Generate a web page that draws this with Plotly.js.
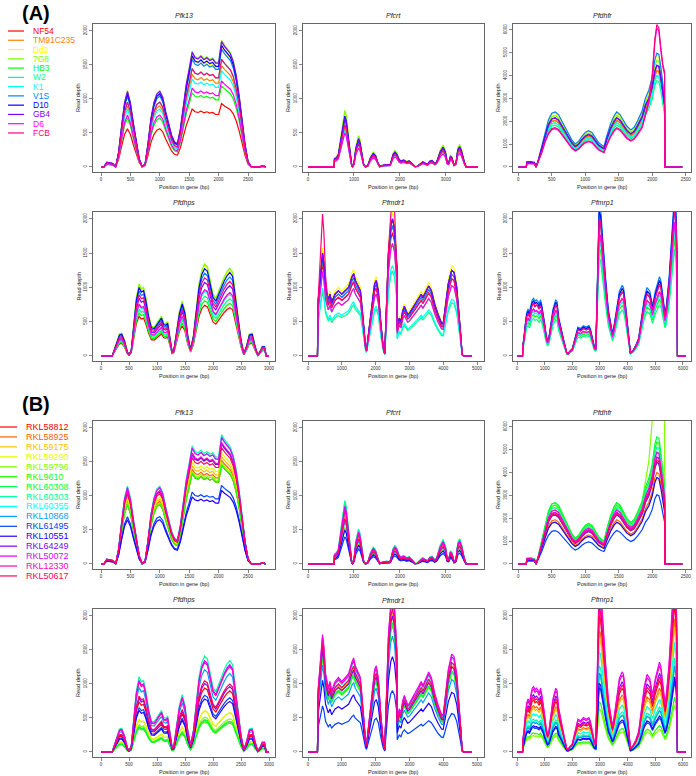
<!DOCTYPE html>
<html>
<head>
<meta charset="utf-8">
<script src="https://cdn.plot.ly/plotly-3.0.1.min.js"></script>
<style>
  body { margin: 0; background: #fff; }
  #chart { width: 696px; height: 776px; }
</style>
</head>
<body>
<div id="chart"></div>
<script>
// genes, strains and tick labels
var genes = ['Pfk13', 'Pfcrt', 'Pfdhfr', 'Pfdhps', 'Pfmdr1', 'Pfmrp1'];
var strainsA = ['NF54', 'TM91C235', 'Dd2', '7G8', 'HB3', 'W2', 'K1', 'V1S', 'D10', 'GB4', 'D6', 'FCB'];
var strainsB = ['RKL58812', 'RKL58925', 'RKL59175', 'RKL59290', 'RKL59796', 'RKL9610', 'RKL60308', 'RKL60303',
                'RKL60355', 'RKL10868', 'RKL61495', 'RKL10551', 'RKL64249', 'RKL50072', 'RKL12330', 'RKL50617'];
var colorsA = ['#FF0000', '#FF8000', '#FFFF00', '#80FF00', '#00FF00', '#00FF80',
               '#00FFFF', '#0080FF', '#0000FF', '#8000FF', '#FF00FF', '#FF0080'];
var colorsB = ['#FF0000', '#FF6000', '#FFBF00', '#DFFF00', '#80FF00', '#20FF00', '#00FF40', '#00FF9F',
               '#00FFFF', '#009FFF', '#0040FF', '#2000FF', '#8000FF', '#DF00FF', '#FF00BF', '#FF0060'];

var xTicks = [
    [0, 500, 1000, 1500, 2000, 2500],
    [0, 1000, 2000, 3000],
    [0, 500, 1000, 1500, 2000, 2500],
    [0, 500, 1000, 1500, 2000, 2500, 3000],
    [0, 1000, 2000, 3000, 4000, 5000],
    [0, 1000, 2000, 3000, 4000, 5000, 6000]
];
var yTicksDepth = [0, 500, 1000, 1500, 2000];
var yTicksDhfr = [0, 1000, 2000, 3000, 4000, 5000, 6000];

// coverage profiles (position in bp, read depth)
var pfk13Pos = [
    0, 50, 100, 150, 200, 250, 300, 350, 400, 450,
    500, 550, 600, 650, 700, 750, 800, 850, 900, 950,
    1000, 1050, 1100, 1150, 1200, 1250, 1300, 1350, 1400, 1450,
    1500, 1550, 1600, 1650, 1700, 1750, 1800, 1850, 1900, 1950,
    2000, 2050, 2100, 2150, 2200, 2250, 2300, 2350, 2400, 2450,
    2500, 2550, 2600, 2650, 2700, 2750, 2800];
var pfk13Depth = [
    0, 0, 70, 65, 50, 0, 220, 600, 950, 1120,
    950, 650, 350, 120, 5, 40, 350, 720, 950, 1080,
    1120, 1030, 820, 620, 470, 370, 345, 560, 900, 1220,
    1450, 1700, 1620, 1600, 1640, 1590, 1620, 1580, 1600, 1540,
    1540, 1860, 1790, 1740, 1680, 1560, 1350, 1050, 680, 330,
    80, 5, 0, 0, 0, 20, 0];

var pfcrtPos = [
    0, 570, 575, 620, 660, 700, 740, 780, 800, 830,
    870, 910, 950, 970, 1000, 1040, 1080, 1100, 1130, 1170,
    1210, 1250, 1300, 1360, 1420, 1470, 1520, 1560, 1600, 1700,
    1780, 1800, 1850, 1890, 1930, 1980, 2020, 2080, 2150, 2200,
    2260, 2330, 2380, 2450, 2500, 2550, 2600, 2650, 2700, 2760,
    2800, 2880, 2940, 2990, 3030, 3060, 3100, 3130, 3180, 3220,
    3260, 3300, 3340, 3400, 3440, 3700];
var pfcrtDepth = [
    0, 0, 130, 150, 200, 380, 620, 800, 830, 760,
    520, 220, 30, 0, 60, 300, 440, 460, 400, 200,
    40, 0, 20, 150, 220, 180, 60, 5, 20, 35,
    30, 60, 200, 240, 210, 120, 90, 110, 80, 95,
    60, 5, 10, 60, 80, 60, 40, 90, 100, 50,
    80, 250, 320, 240, 70, 60, 170, 150, 30, 60,
    280, 330, 260, 80, 0, 0];

var pfdhfrPos = [
    0, 120, 125, 180, 240, 265, 300, 350, 400, 450,
    500, 550, 600, 650, 700, 750, 800, 850, 900, 950,
    1000, 1050, 1100, 1150, 1200, 1250, 1280, 1320, 1380, 1430,
    1470, 1520, 1570, 1620, 1680, 1730, 1780, 1850, 1900, 1950,
    2000, 2040, 2070, 2100, 2130, 2160, 2185, 2190, 2450];
var pfdhfrDepth = [
    0, 0, 200, 210, 180, 0, 300, 800, 1400, 1850,
    2100, 2150, 2050, 1800, 1550, 1250, 1050, 900, 1000, 1200,
    1350, 1420, 1350, 1150, 950, 850, 800, 1200, 1700, 2000,
    2150, 2050, 1800, 1600, 1450, 1550, 1800, 2200, 2700, 3000,
    3500, 4200, 4450, 4400, 3900, 3200, 2700, 0, 0];
// strains whose 3' peak runs off the top of the Pfdhfr plot
var pfdhfrDepthAlt = [
    0, 0, 200, 210, 180, 0, 300, 800, 1400, 1850,
    2100, 2150, 2050, 1800, 1550, 1250, 1050, 900, 1000, 1200,
    1350, 1420, 1350, 1150, 950, 850, 800, 1200, 1700, 2000,
    2150, 2050, 1800, 1600, 1450, 1550, 1800, 2200, 2900, 3600,
    5000, 7000, 7800, 7600, 6500, 5600, 5200, 0, 0];

var pfdhpsPos = [
    0, 200, 220, 280, 330, 370, 420, 470, 500, 540,
    580, 630, 680, 720, 760, 800, 850, 900, 950, 1000,
    1050, 1080, 1120, 1160, 1190, 1230, 1270, 1300, 1350, 1400,
    1450, 1500, 1550, 1600, 1650, 1700, 1750, 1800, 1850, 1900,
    1950, 2000, 2050, 2100, 2150, 2200, 2250, 2300, 2350, 2400,
    2450, 2500, 2550, 2600, 2650, 2700, 2750, 2800, 2850, 2880,
    2920, 2950, 3000];
var pfdhpsDepth = [
    0, 0, 50, 200, 320, 330, 230, 60, 20, 80,
    400, 850, 1050, 980, 1000, 850, 600, 430, 420, 480,
    540, 580, 480, 470, 500, 300, 60, 80, 380, 650,
    800, 650, 300, 100, 300, 700, 1050, 1250, 1340, 1300,
    1100, 900, 840, 950, 1050, 1150, 1230, 1280, 1220, 900,
    500, 240, 30, 150, 320, 330, 150, 10, 80, 140,
    140, 0, 0];

var pfmdr1Pos = [
    0, 280, 300, 350, 400, 430, 470, 520, 600, 650,
    700, 800, 900, 1000, 1100, 1200, 1300, 1350, 1400, 1500,
    1550, 1600, 1650, 1700, 1730, 1800, 1900, 1970, 2020, 2080,
    2150, 2220, 2270, 2320, 2380, 2450, 2500, 2560, 2600, 2630,
    2640, 2700, 2750, 2800, 2850, 2900, 2950, 3000, 3100, 3200,
    3300, 3350, 3400, 3500, 3570, 3650, 3750, 3850, 3950, 4000,
    4050, 4150, 4250, 4320, 4400, 4460, 4520, 4560, 4600, 4850];
var pfmdr1Depth = [
    0, 0, 800, 1100, 1400, 1500, 1350, 1000, 820, 900,
    780, 900, 950, 900, 950, 1000, 1150, 1200, 1100, 1000,
    950, 700, 400, 150, 80, 350, 800, 1050, 1100, 950,
    500, 150, 30, 600, 1500, 1900, 2000, 1850, 1500, 1300,
    400, 550, 500, 650, 720, 650, 600, 620, 700, 760,
    850, 900, 850, 950, 1020, 950, 750, 600, 480, 470,
    650, 1050, 1250, 1220, 1000, 700, 300, 20, 0, 0];
var pfmdr1DepthAlt = [
    0, 0, 900, 1500, 2000, 2300, 2000, 1300, 820, 900,
    780, 900, 950, 900, 950, 1000, 1150, 1200, 1100, 1000,
    950, 700, 400, 150, 80, 350, 800, 1050, 1100, 950,
    500, 150, 30, 700, 1700, 2300, 2600, 2400, 1800, 1300,
    400, 550, 500, 650, 720, 650, 600, 620, 700, 760,
    850, 900, 850, 950, 1020, 950, 750, 600, 480, 470,
    650, 1050, 1250, 1220, 1000, 700, 300, 20, 0, 0];

var pfmrp1Pos = [
    0, 200, 210, 250, 300, 350, 400, 450, 500, 550,
    600, 650, 700, 750, 800, 850, 900, 950, 1000, 1050,
    1100, 1150, 1200, 1300, 1400, 1450, 1500, 1600, 1700, 1800,
    1850, 1900, 2000, 2100, 2200, 2300, 2400, 2500, 2600, 2650,
    2750, 2800, 2850, 2880, 2920, 2970, 3020, 3100, 3200, 3300,
    3400, 3450, 3500, 3600, 3700, 3800, 3850, 3900, 4000, 4050,
    4100, 4200, 4300, 4400, 4500, 4600, 4700, 4800, 4850, 4900,
    5000, 5100, 5150, 5200, 5300, 5350, 5400, 5500, 5600, 5650,
    5700, 5750, 5780, 5800, 6100];
var pfmrp1Depth = [
    0, 0, 150, 250, 450, 600, 650, 600, 700, 780,
    800, 760, 780, 760, 720, 780, 700, 600, 450, 300,
    220, 250, 400, 650, 780, 750, 550, 350, 200, 40,
    30, 60, 100, 250, 400, 380, 420, 400, 420, 380,
    200, 120, 100, 600, 1500, 2100, 2050, 1600, 1100, 650,
    400, 320, 400, 650, 900, 980, 950, 800, 400, 150,
    40, 80, 150, 250, 500, 800, 950, 900, 800, 700,
    900, 1050, 1100, 1050, 750, 600, 700, 1100, 1700, 2100,
    2300, 2000, 1500, 0, 0];

// relative depth of each strain against the profile, per gene
var pfk13ScaleA  = [0.50, 0.80, 0.95, 1.00, 0.64, 0.85, 0.76, 0.93, 0.96, 0.99, 0.68, 0.85];
var pfcrtScaleA  = [0.72, 0.70, 0.97, 1.00, 0.82, 0.65, 0.62, 0.85, 0.90, 0.87, 0.60, 0.75];
var pfdhfrScaleA = [0.95, 0.95, 1.10, 1.05, 0.90, 0.85, 0.90, 1.12, 1.00, 1.00, 0.78, 0.80];
var pfdhpsScaleA = [0.55, 0.72, 0.98, 1.00, 0.60, 0.65, 0.70, 0.90, 0.95, 0.80, 0.72, 0.85];
var pfmdr1ScaleA = [0.90, 0.95, 1.05, 1.00, 0.82, 0.62, 0.66, 0.95, 1.00, 1.00, 0.82, 0.90];
var pfmrp1ScaleA = [0.85, 0.85, 0.95, 1.00, 0.75, 0.68, 0.80, 1.05, 1.00, 0.95, 0.85, 0.95];

var pfk13ScaleB  = [0.78, 0.82, 0.85, 0.88, 0.80, 0.78, 0.95, 1.02, 1.00, 0.95, 0.62, 0.58, 0.95, 1.00, 0.96, 0.92];
var pfcrtScaleB  = [0.85, 0.88, 0.90, 0.80, 0.65, 1.00, 1.08, 1.12, 1.00, 0.75, 0.48, 0.60, 0.96, 1.02, 0.95, 0.80];
var pfdhfrScaleB = [1.05, 0.90, 0.85, 1.00, 1.25, 1.20, 1.25, 1.15, 1.10, 1.00, 0.68, 0.85, 1.00, 1.05, 1.10, 1.02];
var pfdhpsScaleB = [0.70, 0.35, 0.45, 0.45, 0.38, 0.33, 0.35, 1.05, 1.00, 0.90, 0.62, 0.58, 0.75, 1.00, 0.98, 0.78];
var pfmdr1ScaleB = [1.00, 1.00, 1.02, 1.00, 0.95, 0.93, 0.95, 1.05, 1.10, 0.85, 0.45, 0.70, 1.00, 1.15, 1.12, 1.05];
var pfmrp1ScaleB = [0.95, 0.85, 0.80, 0.70, 0.30, 0.35, 0.55, 0.60, 0.70, 0.55, 0.45, 0.48, 1.05, 1.20, 1.15, 1.00];

var pfdhfrAltA = ['D6', 'FCB'];
var pfmdr1AltA = ['FCB'];
var pfdhfrAltB = ['RKL59796'];

// ---- layout helpers (pixel boxes of the R panels) ----
var W = 696, H = 776;
function px(x) { return x / W; }
function py(y) { return 1 - y / H; }

var boxCols = [[93, 275], [303, 484], [513, 691]];
var boxRows = [[24, 172], [212, 361], [421, 569], [609, 757]];
var xRanges = [[-136, 2959], [-110, 3830], [-80, 2580], [-143, 3107], [-148, 5207], [-145, 6290]];

var genePos = [pfk13Pos, pfcrtPos, pfdhfrPos, pfdhpsPos, pfmdr1Pos, pfmrp1Pos];
var geneDepth = [pfk13Depth, pfcrtDepth, pfdhfrDepth, pfdhpsDepth, pfmdr1Depth, pfmrp1Depth];
var geneDepthAlt = [null, null, pfdhfrDepthAlt, null, pfmdr1DepthAlt, null];

var panels = [
    { strains: strainsA, colors: colorsA, row0: 0,
      scales: [pfk13ScaleA, pfcrtScaleA, pfdhfrScaleA, pfdhpsScaleA, pfmdr1ScaleA, pfmrp1ScaleA],
      alt: [[], [], pfdhfrAltA, [], pfmdr1AltA, []] },
    { strains: strainsB, colors: colorsB, row0: 2,
      scales: [pfk13ScaleB, pfcrtScaleB, pfdhfrScaleB, pfdhpsScaleB, pfmdr1ScaleB, pfmrp1ScaleB],
      alt: [[], [], pfdhfrAltB, [], [], []] }
];

var fontFam = 'Liberation Sans, Arial, sans-serif';
var data = [];
var layout = {
    width: W, height: H,
    margin: { l: 0, r: 0, t: 0, b: 0 },
    paper_bgcolor: '#fff', plot_bgcolor: '#fff',
    showlegend: false,
    font: { family: fontFam, color: '#222' },
    annotations: [], shapes: []
};

function axisStyle() {
    return {
        showline: true, mirror: true, linecolor: '#666', linewidth: 1,
        ticks: 'outside', ticklen: 3, tickwidth: 0.8, tickcolor: '#666',
        tickfont: { size: 4.5, color: '#333', family: fontFam },
        showgrid: false, zeroline: false, fixedrange: true
    };
}

panels.forEach(function (panel, pi) {
    genes.forEach(function (gene, gi) {
        var n = pi * 6 + gi + 1;
        var row = boxRows[panel.row0 + Math.floor(gi / 3)];
        var col = boxCols[gi % 3];
        var xa = Object.assign(axisStyle(), {
            domain: [px(col[0]), px(col[1])],
            range: xRanges[gi],
            tickvals: xTicks[gi],
            anchor: 'y' + n
        });
        var ya = Object.assign(axisStyle(), {
            domain: [py(row[1]), py(row[0])],
            range: gene === 'Pfdhfr' ? [-220, 6260] : [-75, 2100],
            tickvals: gene === 'Pfdhfr' ? yTicksDhfr : yTicksDepth,
            tickangle: -90,
            anchor: 'x' + n
        });
        layout['xaxis' + n] = xa;
        layout['yaxis' + n] = ya;

        panel.strains.forEach(function (s, si) {
            var prof = panel.alt[gi].indexOf(s) >= 0 ? geneDepthAlt[gi] : geneDepth[gi];
            var k = panel.scales[gi][si];
            data.push({
                type: 'scatter', mode: 'lines',
                x: genePos[gi],
                y: prof.map(function (d) { return Math.round(d * k); }),
                xaxis: 'x' + n, yaxis: 'y' + n,
                name: s,
                line: { color: panel.colors[si], width: 1.2 },
                hoverinfo: 'skip'
            });
        });

        var cx = (col[0] + col[1]) / 2;
        layout.annotations.push({
            text: '<i>' + gene + '</i>', xref: 'paper', yref: 'paper',
            x: px(cx), y: py(row[0] - 9), showarrow: false,
            xanchor: 'center', yanchor: 'middle',
            font: { size: 7, family: fontFam, color: '#222' }
        });
        layout.annotations.push({
            text: 'Position in gene (bp)', xref: 'paper', yref: 'paper',
            x: px(cx), y: py(row[1] + 15), showarrow: false,
            xanchor: 'center', yanchor: 'middle',
            font: { size: 5.5, family: fontFam, color: '#222' }
        });
        layout.annotations.push({
            text: 'Read depth', xref: 'paper', yref: 'paper',
            x: px(col[0] - 15), y: py((row[0] + row[1]) / 2), showarrow: false,
            textangle: -90, xanchor: 'center', yanchor: 'middle',
            font: { size: 5.5, family: fontFam, color: '#222' }
        });
    });
});

// panel letters
[['(A)', 13], ['(B)', 404]].forEach(function (p) {
    layout.annotations.push({
        text: '<b>' + p[0] + '</b>', xref: 'paper', yref: 'paper',
        x: px(20), y: py(p[1]), showarrow: false,
        xanchor: 'left', yanchor: 'middle',
        font: { size: 20, family: fontFam, color: '#000' }
    });
});

// hand-drawn legends, as in the R figure
function addLegend(strains, colors, y0, dy, lx0, lx1, tx, fs) {
    strains.forEach(function (s, i) {
        var y = y0 + i * dy;
        layout.shapes.push({
            type: 'line', xref: 'paper', yref: 'paper',
            x0: px(lx0), x1: px(lx1), y0: py(y), y1: py(y),
            line: { color: colors[i], width: 1.2 }
        });
        layout.annotations.push({
            text: s, xref: 'paper', yref: 'paper',
            x: px(tx), y: py(y), showarrow: false,
            xanchor: 'left', yanchor: 'middle',
            font: { size: fs, family: fontFam, color: colors[i] }
        });
    });
}
addLegend(strainsA, colorsA, 31, 9.27, 8, 24, 31, 8.5);
addLegend(strainsB, colorsB, 427, 9.93, 0, 17, 24, 9);

Plotly.newPlot('chart', data, layout, { staticPlot: true });
</script>
</body>
</html>
